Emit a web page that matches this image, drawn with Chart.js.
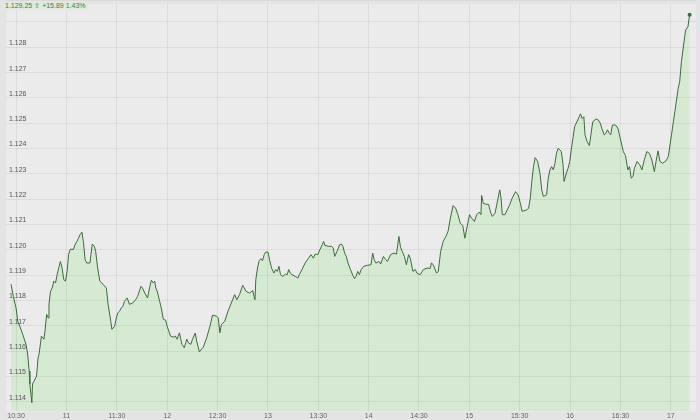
<!DOCTYPE html>
<html>
<head>
<meta charset="utf-8">
<script src="https://cdn.jsdelivr.net/npm/chart.js@4/dist/chart.umd.min.js"></script>
<style>
  body { margin: 0; background: #e4e4e4; }
  #wrap { position: relative; width: 700px; height: 420px; }
  #quote { position: absolute; left: 3px; top: 2px; font: 7px "Liberation Sans", sans-serif; color: #4d7a4d; background: #dfe9dc; padding: 0 2px; }
</style>
</head>
<body>
<div id="wrap">
  <canvas id="chart"></canvas>
  <div id="quote">1.129.25 ⇧ +15.89 1.43%</div>
</div>
<script>
// minutes after 10:30
const times = [-3, -1.6, 0, 1, 2.9, 3.9, 5.9, 6.9, 7.8, 8.2, 9.4, 9.8, 10.7, 12.2, 13.1, 13.7, 15.1, 16.6, 17.2, 18.2,
  19.2, 19.6, 20.5, 21.5, 22.5, 23.5, 24.5, 25.4, 26.4, 27.4, 28.4, 29.4, 30.4, 31.3, 32.3, 34.2, 35.2, 36.2, 37.2, 38.2,
  39.2, 40.1, 41.1, 42.1, 44, 44.6, 45.4, 46.6, 47.4, 48.6, 49.9, 51.8, 53.8, 54.8, 56.4, 57.1, 58.7, 59.7, 60.6, 61.6,
  62.6, 63.6, 64.6, 66.2, 67.5, 69.5, 71.4, 72.4, 74.4, 75.3, 76.7, 78.3, 79.7, 80.6, 81.8, 82.6, 83.2, 84.1, 85.5, 86.5,
  87.7, 89.1, 90, 92, 93.9, 94.9, 95.9, 97.3, 98.8, 100.2, 101.7, 102.7, 104.1, 105.1, 106.7, 107.6, 109.2, 110.5, 111.5, 113.5,
  115.5, 117, 119.4, 120.4, 121.4, 122.3, 124.3, 126.2, 128.2, 130.2, 131.5, 133.1, 135, 137, 139, 140.9, 142.3, 142.8, 143.8, 144.8,
  145.8, 146.8, 147.8, 148.7, 150.1, 151.1, 152.2, 153.6, 154.6, 155.6, 156.6, 157.5, 158.9, 160.5, 161.5, 162.4, 163.4, 164.4, 166.3, 167.9,
  168.7, 170.3, 172.2, 174.2, 175.7, 177.1, 178.1, 179.7, 181, 182.4, 183.2, 183.9, 185.9, 187.9, 188.9, 189.8, 191.2, 192.7, 193.7, 194.7,
  195.7, 196.7, 197.7, 199.2, 200.6, 201.6, 202.5, 203.5, 204.5, 205.5, 207.1, 209.4, 211.4, 212.4, 213.3, 214.3, 216.2, 217.2, 218.8, 220.2,
  221.2, 223.1, 225, 226.6, 228, 229, 230, 231.3, 232.5, 233.8, 234.8, 236.4, 237.8, 238.8, 240.7, 242.6, 245, 246.6, 247.4, 248.5,
  250.5, 251.5, 252.9, 254.4, 256, 257.3, 258.7, 260.3, 261.8, 263.2, 264.6, 266.1, 267.3, 268.5, 270.1, 271.4, 273, 274.4, 275.9, 276.9,
  277.3, 278.3, 279.9, 281.4, 282.8, 283.7, 285.3, 286.7, 288.1, 288.9, 289.6, 291.2, 292.6, 294, 295.5, 297.5, 299, 300.4, 301.4, 304.3,
  305.3, 306.3, 307.2, 308.2, 309.2, 310.7, 312.2, 313.1, 314.1, 316, 317, 318, 319, 320, 321, 321.9, 322.9, 323.9, 324.8, 325.8,
  326.4, 327.8, 328.8, 329.8, 330.7, 332.7, 334.6, 336.2, 337.2, 338.2, 338.9, 340.1, 341.5, 342.4, 343.5, 345.4, 346.8, 348, 348.9, 350.3,
  351.3, 352.3, 353.3, 354.2, 355.2, 357.1, 358.5, 360.1, 361.7, 363, 364.4, 365.4, 366.4, 367.5, 368.3, 369.9, 371.5, 372.8, 374.2, 375.7,
  377.3, 378.7, 380.2, 381.2, 382.4, 383.5, 385.1, 387.1, 388.5, 390.4, 392.4, 394.4, 395.3, 396.3, 398.8, 400.2, 401.2];

const prices = [1.11864, 1.11816, 1.11770, 1.11718, 1.11686, 1.11667, 1.11627, 1.11588, 1.11521, 1.11470, 1.11396, 1.11470, 1.11481, 1.11501, 1.11573, 1.11588, 1.11659, 1.11647, 1.11678, 1.11745,
  1.11731, 1.11785, 1.11836, 1.11849, 1.11876, 1.11869, 1.11903, 1.11928, 1.11954, 1.11928, 1.11883, 1.11876, 1.11915, 1.11982, 1.12002, 1.12002, 1.12021, 1.12033, 1.12046, 1.12061,
  1.12070, 1.12033, 1.11962, 1.11948, 1.11948, 1.11982, 1.12023, 1.12014, 1.11994, 1.11928, 1.11876, 1.11864, 1.11849, 1.11785, 1.11718, 1.11686, 1.11698, 1.11731, 1.11751, 1.11757,
  1.11770, 1.11777, 1.11797, 1.11810, 1.11785, 1.11790, 1.11805, 1.11816, 1.11856, 1.11849, 1.11829, 1.11810, 1.11856, 1.11880, 1.11869, 1.11876, 1.11849, 1.11836, 1.11797, 1.11770,
  1.11726, 1.11722, 1.11698, 1.11659, 1.11655, 1.11659, 1.11647, 1.11672, 1.11627, 1.11613, 1.11647, 1.11632, 1.11627, 1.11647, 1.11671, 1.11639, 1.11597, 1.11608, 1.11615, 1.11652,
  1.11698, 1.11742, 1.11738, 1.11731, 1.11672, 1.11705, 1.11718, 1.11757, 1.11790, 1.11823, 1.11803, 1.11823, 1.11860, 1.11836, 1.11829, 1.11839, 1.11803, 1.11882, 1.11928, 1.11957,
  1.11965, 1.11957, 1.11981, 1.11991, 1.11991, 1.11957, 1.11928, 1.11908, 1.11922, 1.11915, 1.11935, 1.11902, 1.11895, 1.11904, 1.11902, 1.11922, 1.11908, 1.11902, 1.11895, 1.11889,
  1.11902, 1.11922, 1.11948, 1.11967, 1.11981, 1.11967, 1.11983, 1.11981, 1.12001, 1.12020, 1.12033, 1.12018, 1.12014, 1.12014, 1.12007, 1.11974, 1.11994, 1.12020, 1.12023, 1.12014,
  1.11987, 1.11974, 1.11948, 1.11922, 1.11899, 1.11886, 1.11895, 1.11915, 1.11902, 1.11922, 1.11935, 1.11939, 1.11941, 1.11987, 1.11961, 1.11948, 1.11954, 1.11944, 1.11974, 1.11961,
  1.11954, 1.11981, 1.11987, 1.11983, 1.12053, 1.12010, 1.11994, 1.11974, 1.11941, 1.11981, 1.11967, 1.11915, 1.11922, 1.11908, 1.11902, 1.11922, 1.11928, 1.11926, 1.11948, 1.11941,
  1.11908, 1.11915, 1.11994, 1.12033, 1.12053, 1.12073, 1.12125, 1.12175, 1.12165, 1.12139, 1.12105, 1.12096, 1.12046, 1.12086, 1.12139, 1.12125, 1.12112, 1.12139, 1.12149, 1.12139,
  1.12215, 1.12184, 1.12180, 1.12180, 1.12145, 1.12132, 1.12145, 1.12191, 1.12237, 1.12204, 1.12139, 1.12139, 1.12158, 1.12178, 1.12204, 1.12230, 1.12217, 1.12184, 1.12152, 1.12158,
  1.12165, 1.12204, 1.12270, 1.12329, 1.12364, 1.12349, 1.12296, 1.12237, 1.12211, 1.12217, 1.12283, 1.12316, 1.12329, 1.12316, 1.12342, 1.12381, 1.12401, 1.12395, 1.12388, 1.12336,
  1.12270, 1.12303, 1.12322, 1.12349, 1.12395, 1.12487, 1.12513, 1.12537, 1.12519, 1.12526, 1.12454, 1.12428, 1.12412, 1.12454, 1.12506, 1.12517, 1.12513, 1.12500, 1.12480, 1.12454,
  1.12460, 1.12474, 1.12460, 1.12454, 1.12493, 1.12493, 1.12480, 1.12434, 1.12388, 1.12372, 1.12316, 1.12329, 1.12283, 1.12290, 1.12322, 1.12349, 1.12336, 1.12316, 1.12355, 1.12388,
  1.12381, 1.12355, 1.12309, 1.12349, 1.12391, 1.12349, 1.12342, 1.12351, 1.12368, 1.12454, 1.12546, 1.12638, 1.12664, 1.12743, 1.12868, 1.12881, 1.12929];

const xTickValues = [0, 30, 60, 90, 120, 150, 180, 210, 240, 270, 300, 330, 360, 390];
const xTickLabels = ["10:30", "11", "11:30", "12", "12:30", "13", "13:30", "14", "14:30", "15", "15:30", "16", "16:30", "17"];
const yTickValues = [1.114, 1.115, 1.116, 1.117, 1.118, 1.119, 1.120, 1.121, 1.122, 1.123, 1.124, 1.125, 1.126, 1.127, 1.128, 1.129];
const yTickLabels = ["1.114", "1.115", "1.116", "1.117", "1.118", "1.119", "1.120", "1.121", "1.122", "1.123", "1.124", "1.125", "1.126", "1.127", "1.128", ""];

const areaBg = {
  id: "areaBg",
  beforeDraw(chart) {
    const { ctx, chartArea: a } = chart;
    ctx.save();
    ctx.fillStyle = "#ebebeb";
    ctx.fillRect(a.left, a.top, a.right - a.left, a.bottom - a.top);
    ctx.restore();
  }
};

const noPad = scale => { scale.paddingTop = 0; scale.paddingBottom = 0; scale.paddingLeft = 0; scale.paddingRight = 0; };

new Chart(document.getElementById("chart"), {
  type: "line",
  data: {
    datasets: [{
      data: times.map((t, i) => ({ x: t, y: prices[i] })),
      borderColor: "#3c6e3c",
      backgroundColor: "#d6e9d2",
      borderWidth: 1,
      fill: "start",
      tension: 0,
      pointRadius: times.map((t, i) => i === times.length - 1 ? 2 : 0),
      pointBackgroundColor: "#3c6e3c",
      pointBorderWidth: 0
    }]
  },
  options: {
    responsive: true,
    maintainAspectRatio: false,
    animation: false,
    layout: { padding: 0 },
    plugins: { legend: { display: false }, tooltip: { enabled: false } },
    scales: {
      x: {
        type: "linear",
        min: -6,
        max: 405,
        afterBuildTicks: axis => { axis.ticks = xTickValues.map(v => ({ value: v })); },
        afterFit: noPad,
        grid: { color: "rgba(0,0,0,0.06)", drawTicks: false, z: 1 },
        border: { display: true, color: "#cfcfcf" },
        ticks: { z: 1, autoSkip: false, maxRotation: 0, padding: 0, color: "#666", font: { family: "Liberation Sans", size: 7 },
          callback: (v, i) => xTickLabels[i] }
      },
      y: {
        min: 1.11361,
        max: 1.12971,
        afterBuildTicks: axis => { axis.ticks = yTickValues.map(v => ({ value: v })); },
        afterFit: noPad,
        grid: { color: "rgba(0,0,0,0.06)", drawTicks: false, z: 1 },
        border: { display: false },
        ticks: { z: 1, mirror: true, padding: 3, labelOffset: -4, color: "#555", font: { family: "Liberation Sans", size: 7 },
          callback: (v, i) => yTickLabels[i] }
      }
    }
  },
  plugins: [areaBg]
});
</script>
</body>
</html>
